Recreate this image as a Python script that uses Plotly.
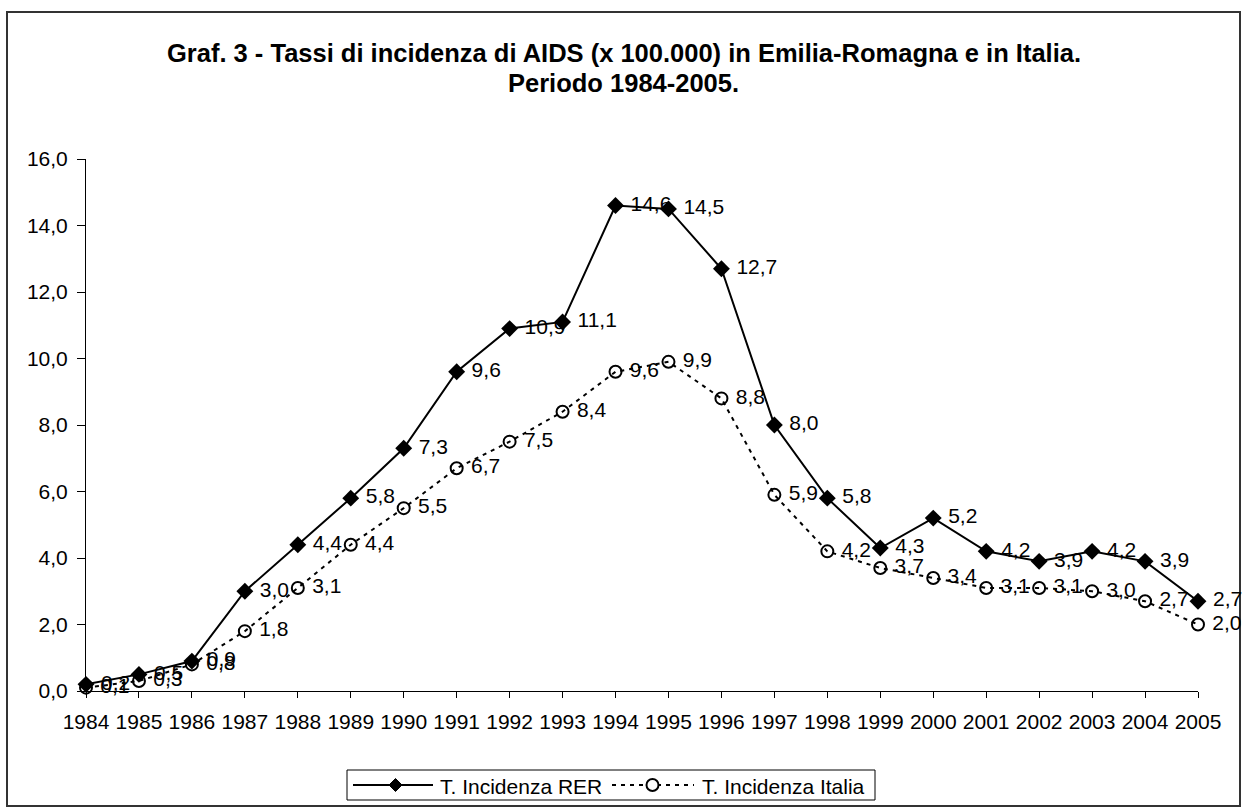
import plotly.graph_objects as go

years = list(range(1984, 2006))
rer = [0.2, 0.5, 0.9, 3.0, 4.4, 5.8, 7.3, 9.6, 10.9, 11.1, 14.6, 14.5, 12.7, 8.0, 5.8, 4.3, 5.2, 4.2, 3.9, 4.2, 3.9, 2.7]
italia = [0.1, 0.3, 0.8, 1.8, 3.1, 4.4, 5.5, 6.7, 7.5, 8.4, 9.6, 9.9, 8.8, 5.9, 4.2, 3.7, 3.4, 3.1, 3.1, 3.0, 2.7, 2.0]
y_ticks = [0, 2, 4, 6, 8, 10, 12, 14, 16]
series_names = ["T. Incidenza RER", "T. Incidenza Italia"]
title_lines = ["Graf. 3 - Tassi di incidenza di AIDS (x 100.000) in Emilia-Romagna e in Italia.",
               "Periodo 1984-2005."]

FONT = "Arial, Liberation Sans, sans-serif"
FS = 21

# plot area in pixels
L, R, T, B = 86, 1198, 159, 691
W, H = 1247, 812


def px(x):
    return (x - L) / (R - L)


def py(y):
    return (B - y) / (B - T)


DOT = "4px,5px"

fig = go.Figure()
fig.add_trace(go.Scatter(
    x=years, y=rer, name=series_names[0],
    mode="lines+markers+text",
    line=dict(color="black", width=2),
    marker=dict(symbol="diamond", size=13, color="black"),
    texttemplate="\u00a0%{y:.1f}", textposition="middle right",
    textfont=dict(family=FONT, size=FS, color="black"),
    cliponaxis=False, showlegend=False,
))
fig.add_trace(go.Scatter(
    x=years, y=italia, name=series_names[1],
    mode="lines+markers+text",
    line=dict(color="black", width=2, dash=DOT),
    marker=dict(symbol="circle-open", size=12, color="black", line=dict(width=2, color="black")),
    texttemplate="\u00a0%{y:.1f}", textposition="middle right",
    textfont=dict(family=FONT, size=FS, color="black"),
    cliponaxis=False, showlegend=False,
))

shapes = [
    # outer chart border
    dict(type="rect", xref="paper", yref="paper",
         x0=px(7), x1=px(1240), y0=py(806), y1=py(12),
         line=dict(color="#333333", width=2), layer="below"),
    # legend box
    dict(type="rect", xref="paper", yref="paper",
         x0=px(347), x1=px(875), y0=py(800), y1=py(770),
         line=dict(color="black", width=1), fillcolor="white", layer="below"),
    # legend sample 1
    dict(type="line", xref="paper", yref="paper",
         x0=px(353), x1=px(433), y0=py(785), y1=py(785),
         line=dict(color="black", width=2)),
    dict(type="path", xref="paper", yref="paper",
         path="M {a},{c} L {b},{d} L {e},{c} L {b},{f} Z".format(
             a=px(389), b=px(395.5), e=px(402), c=py(785), d=py(778.5), f=py(791.5)),
         fillcolor="black", line=dict(color="black", width=1)),
    # legend sample 2
    dict(type="line", xref="paper", yref="paper",
         x0=px(612), x1=px(694), y0=py(785), y1=py(785),
         line=dict(color="black", width=2, dash=DOT)),
    dict(type="circle", xref="paper", yref="paper",
         x0=px(646.5), x1=px(658.5), y0=py(791), y1=py(779),
         fillcolor="white", line=dict(color="black", width=2)),
]

annotations = [
    dict(text="<b>" + title_lines[0] + "</b>", xref="paper", yref="paper",
         x=px(623.5), y=py(53), xanchor="center", yanchor="middle", showarrow=False,
         font=dict(family=FONT, size=25.5, color="black")),
    dict(text="<b>" + title_lines[1] + "</b>", xref="paper", yref="paper",
         x=px(623.5), y=py(83), xanchor="center", yanchor="middle", showarrow=False,
         font=dict(family=FONT, size=25.5, color="black")),
    dict(text=series_names[0], xref="paper", yref="paper",
         x=px(438), y=py(786), xanchor="left", yanchor="middle", showarrow=False,
         font=dict(family=FONT, size=FS, color="black")),
    dict(text=series_names[1], xref="paper", yref="paper",
         x=px(700), y=py(786), xanchor="left", yanchor="middle", showarrow=False,
         font=dict(family=FONT, size=FS, color="black")),
]

fig.update_layout(
    width=W, height=H,
    margin=dict(l=L, r=W - R, t=T, b=H - B),
    paper_bgcolor="white", plot_bgcolor="white",
    separators=",.",
    font=dict(family=FONT, size=FS, color="black"),
    showlegend=False,
    xaxis=dict(
        range=[1984, 2005], tickvals=years, ticktext=[str(y) for y in years],
        showgrid=False, zeroline=False, showline=True, linecolor="black", linewidth=1,
        ticks="outside", ticklen=6, tickcolor="black", ticklabelstandoff=6,
        tickfont=dict(family=FONT, size=FS, color="black"),
    ),
    yaxis=dict(
        range=[0, 16], tickvals=y_ticks, tickformat=".1f",
        showgrid=False, zeroline=False, showline=True, linecolor="black", linewidth=1,
        ticks="outside", ticklen=8, tickcolor="black", ticklabelstandoff=5,
        tickfont=dict(family=FONT, size=FS, color="black"),
    ),
    shapes=shapes,
    annotations=annotations,
)

fig.write_html(
    "out.html",
    config={"displayModeBar": False},
    post_script="document.body.style.margin='0px';document.documentElement.style.overflow='hidden';",
)
